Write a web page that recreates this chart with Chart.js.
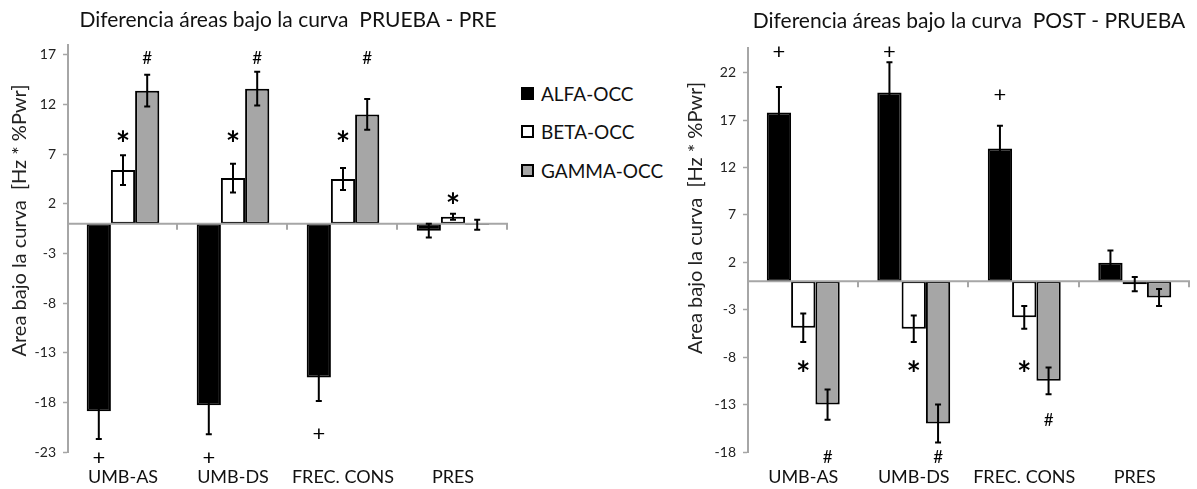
<!DOCTYPE html>
<html lang="es">
<head>
<meta charset="UTF-8">
<title>Diferencia áreas bajo la curva</title>
<script src="https://cdn.jsdelivr.net/npm/chart.js@4"></script>
<style>
  body { margin: 0; background: #fff; font-family: Lato, sans-serif; }
  #wrap { position: relative; width: 1197px; height: 489px; overflow: hidden; }
  #leftBox { position: absolute; left: 0; top: 0; width: 520px; height: 489px; }
  #rightBox { position: absolute; left: 660px; top: 0; width: 537px; height: 489px; }
  #legend { position: absolute; left: 521px; top: 74px; }
  .item { display: flex; align-items: center; height: 38.5px; font-size: 19px; color: #111; }
  .swatch { width: 9px; height: 9px; border: 2px solid #000; margin-right: 7px; }
</style>
</head>
<body>
<div id="wrap">
  <div id="leftBox"><canvas id="chartPre" width="520" height="489"></canvas></div>
  <div id="legend"></div>
  <div id="rightBox"><canvas id="chartPost" width="537" height="489"></canvas></div>
</div>
<script>
const categories = ['UMB-AS', 'UMB-DS', 'FREC. CONS', 'PRES'];
const seriesNames = ['ALFA-OCC', 'BETA-OCC', 'GAMMA-OCC'];
const seriesColors = ['#000000', '#ffffff', '#a6a6a6'];
const yTitle = 'Area bajo la curva  [Hz * %Pwr]';

// PRUEBA - PRE
const alfaPre = [-18.9, -18.3, -15.5, -0.7];
const alfaPreErr = [2.8, 2.9, 2.35, 0.7];
const betaPre = [5.4, 4.6, 4.5, 0.7];
const betaPreErr = [1.5, 1.45, 1.1, 0.3];
const gammaPre = [13.4, 13.6, 11.0, -0.1];
const gammaPreErr = [1.6, 1.7, 1.55, 0.5];
const ticksPre = [-23, -18, -13, -8, -3, 2, 7, 12, 17];

// POST - PRUEBA
const alfaPost = [17.8, 19.9, 14.0, 1.95];
const alfaPostErr = [2.7, 3.2, 2.4, 1.3];
const betaPost = [-4.9, -5.0, -3.8, -0.3];
const betaPostErr = [1.5, 1.4, 1.2, 0.75];
const gammaPost = [-13.0, -15.0, -10.5, -1.7];
const gammaPostErr = [1.6, 2.0, 1.4, 0.9];
const ticksPost = [-18, -13, -8, -3, 2, 7, 12, 17, 22];

// significance marks: [series, category, symbol, value where it sits]
const marksPre = [
  [2, 0, '#', 16.7], [2, 1, '#', 16.7], [2, 2, '#', 16.7],
  [1, 0, '*', 8.8], [1, 1, '*', 8.8], [1, 2, '*', 8.8], [1, 3, '*', 2.6],
  [0, 0, '+', -23.6], [0, 1, '+', -23.6], [0, 2, '+', -21.1]
];
const marksPost = [
  [0, 0, '+', 24.2], [0, 1, '+', 24.2], [0, 2, '+', 19.7],
  [1, 0, '*', -8.9], [1, 1, '*', -8.9], [1, 2, '*', -8.9],
  [2, 0, '#', -18.5], [2, 1, '#', -18.5], [2, 2, '#', -14.6]
];

const FONT = 'Lato, sans-serif';
const markFonts = { '#': '17px ' + FONT, '*': 'bold 34px ' + FONT, '+': '22px ' + FONT };

// zero axis, error bars, significance symbols and the rotated axis title
const annotate = {
  id: 'annotate',
  afterDatasetsDraw(chart, args, opts) {
    const { ctx, chartArea: a, scales: { y } } = chart;
    const y0 = y.getPixelForValue(0);
    ctx.save();
    ctx.strokeStyle = '#a6a6a6';
    ctx.lineWidth = 2;
    ctx.beginPath();
    ctx.moveTo(a.left, y0);
    ctx.lineTo(a.right, y0);
    const step = (a.right - a.left) / categories.length;
    for (let k = 1; k <= categories.length; k++) {
      const px = Math.round(a.left + k * step) - 1;
      ctx.moveTo(px, y0);
      ctx.lineTo(px, y0 + 6);
    }
    ctx.stroke();

    ctx.strokeStyle = '#000';
    ctx.lineWidth = 2;
    chart.data.datasets.forEach((ds, i) => {
      chart.getDatasetMeta(i).data.forEach((bar, j) => {
        const v = ds.data[j], e = ds.errors[j];
        const top = y.getPixelForValue(v + e), bot = y.getPixelForValue(v - e);
        ctx.beginPath();
        ctx.moveTo(bar.x, top); ctx.lineTo(bar.x, bot);
        ctx.moveTo(bar.x - 3, top); ctx.lineTo(bar.x + 3, top);
        ctx.moveTo(bar.x - 3, bot); ctx.lineTo(bar.x + 3, bot);
        ctx.stroke();
      });
    });

    ctx.fillStyle = '#000';
    ctx.textAlign = 'center';
    ctx.textBaseline = 'alphabetic';
    opts.marks.forEach(([s, c, text, val]) => {
      const bar = chart.getDatasetMeta(s).data[c];
      ctx.font = markFonts[text];
      const m = ctx.measureText(text);
      const off = (m.actualBoundingBoxAscent - m.actualBoundingBoxDescent) / 2;
      ctx.fillText(text, bar.x, y.getPixelForValue(val) + off);
    });

    // axis title sits a little above the middle of the axis
    ctx.fillStyle = '#222';
    ctx.font = '20px ' + FONT;
    ctx.textBaseline = 'middle';
    ctx.translate(opts.titleX, (a.top + a.bottom) / 2 + opts.titleShift);
    ctx.rotate(-Math.PI / 2);
    ctx.fillText(yTitle, 0, 0);
    ctx.restore();
  }
};

function makeChart(id, title, values, errors, ticks, min, max, marks, cfg) {
  const datasets = values.map((vals, i) => ({
    label: seriesNames[i],
    data: vals,
    errors: errors[i],
    backgroundColor: seriesColors[i],
    borderColor: '#000',
    borderWidth: 2,
    borderSkipped: false,
    categoryPercentage: 0.66,
    barPercentage: 1.0
  }));
  return new Chart(document.getElementById(id), {
    type: 'bar',
    data: { labels: categories, datasets },
    plugins: [annotate],
    options: {
      responsive: false,
      animation: false,
      devicePixelRatio: 1,
      layout: { padding: { left: cfg.padLeft, right: cfg.padRight, top: 0, bottom: 0 } },
      plugins: {
        legend: { display: false },
        tooltip: { enabled: false },
        title: {
          display: true,
          text: title,
          fullSize: false,
          color: '#111',
          font: { family: FONT, size: 21, weight: 'normal' },
          padding: { top: cfg.titleTop, bottom: cfg.titleBottom }
        },
        annotate: { marks, titleX: cfg.titleX, titleShift: cfg.titleShift }
      },
      scales: {
        x: {
          grid: { display: false },
          border: { display: false },
          ticks: { color: '#111', font: { family: FONT, size: 18 }, padding: 6 },
          afterFit(scale) { scale.height = 37; }
        },
        y: {
          min, max,
          afterBuildTicks(scale) { scale.ticks = ticks.map(v => ({ value: v })); },
          afterFit(scale) { scale.width = cfg.axisWidth; },
          grid: { drawOnChartArea: false, tickLength: 5, tickColor: '#a6a6a6', tickWidth: 1.5 },
          border: { color: '#a6a6a6', width: 2 },
          ticks: { color: '#222', font: { family: FONT, size: 14 }, padding: 7 }
        }
      }
    }
  });
}

makeChart('chartPre', 'Diferencia áreas bajo la curva  PRUEBA - PRE',
  [alfaPre, betaPre, gammaPre], [alfaPreErr, betaPreErr, gammaPreErr],
  ticksPre, -23, 18, marksPre,
  { padLeft: 10, padRight: 12, axisWidth: 58, titleTop: 8, titleBottom: 11.8, titleX: 20, titleShift: -28 });

makeChart('chartPost', 'Diferencia áreas bajo la curva  POST - PRUEBA',
  [alfaPost, betaPost, gammaPost], [alfaPostErr, betaPostErr, gammaPostErr],
  ticksPost, -18, 24.6, marksPost,
  { padLeft: 26, padRight: 7, axisWidth: 62, titleTop: 9, titleBottom: 13.8, titleX: 36, titleShift: -32 });

// legend shared by both panels
const legend = document.getElementById('legend');
seriesNames.forEach((name, i) => {
  const item = document.createElement('div');
  item.className = 'item';
  item.innerHTML = `<span class="swatch" style="background:${seriesColors[i]}"></span>${name}`;
  legend.appendChild(item);
});
</script>
</body>
</html>
